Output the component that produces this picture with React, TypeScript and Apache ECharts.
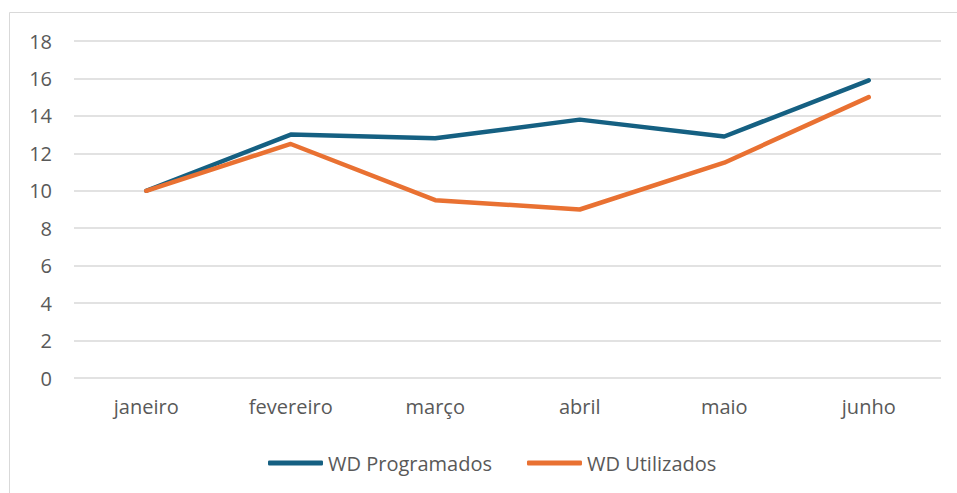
import React, { useEffect, useRef } from "react";
import * as echarts from "echarts";

const categories = ["janeiro", "fevereiro", "março", "abril", "maio", "junho"];
const programados = [10, 13, 12.8, 13.8, 12.9, 15.9];
const utilizados = [10, 12.5, 9.5, 9, 11.5, 15];
const seriesNames = ["WD Programados", "WD Utilizados"];

export default function App() {
  const ref = useRef<HTMLDivElement>(null);
  useEffect(() => {
    if (!ref.current) return;
    const chart = echarts.init(ref.current, null, { renderer: "svg" });
    const font = "Open Sans";
    chart.setOption({
      animation: false,
      backgroundColor: "#ffffff",
      graphic: [
        {
          type: "rect",
          shape: { x: 9.5, y: 12.5, width: 1000, height: 1000 },
          style: { fill: "none", stroke: "#d9d9d9", lineWidth: 1 },
          silent: true,
        },
      ],
      grid: { left: 74, right: 16, top: 41, bottom: 115, containLabel: false },
      xAxis: {
        type: "category",
        data: categories,
        boundaryGap: true,
        axisLine: { show: false },
        axisTick: { show: false },
        axisLabel: { color: "#595959", fontSize: 20, fontFamily: font, margin: 18 },
      },
      yAxis: {
        type: "value",
        min: 0,
        max: 18,
        interval: 2,
        axisLine: { show: false },
        axisTick: { show: false },
        splitLine: { lineStyle: { color: "#d9d9d9", width: 1.5 } },
        axisLabel: { color: "#595959", fontSize: 20, fontFamily: font, margin: 22 },
      },
      legend: {
        bottom: 15,
        left: 263,
        icon: "roundRect",
        itemWidth: 55,
        itemHeight: 5,
        itemGap: 35,
        textStyle: { color: "#595959", fontSize: 20, fontFamily: font },
        data: seriesNames,
      },
      series: [
        {
          name: seriesNames[0],
          type: "line",
          data: programados,
          symbol: "none",
          lineStyle: { color: "#156082", width: 4.5, cap: "round", join: "round" },
          itemStyle: { color: "#156082" },
        },
        {
          name: seriesNames[1],
          type: "line",
          data: utilizados,
          symbol: "none",
          lineStyle: { color: "#E97132", width: 4.5, cap: "round", join: "round" },
          itemStyle: { color: "#E97132" },
        },
      ],
    });
    return () => chart.dispose();
  }, []);
  return (
    <div
      ref={ref}
      style={{ position: "fixed", left: 0, top: 0, width: 957, height: 493 }}
    />
  );
}
